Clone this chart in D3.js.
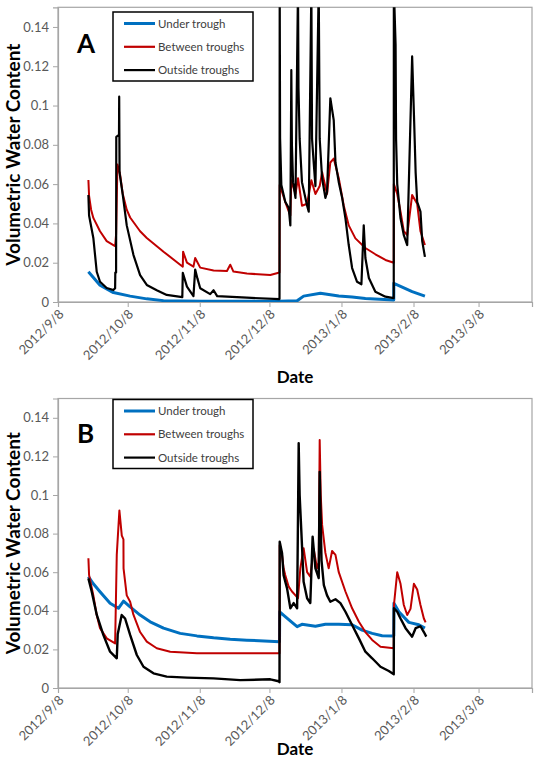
<!DOCTYPE html>
<html>
<head>
<meta charset="utf-8">
<script src="https://cdn.jsdelivr.net/npm/d3@7"></script>
<style>
  body { margin: 0; background: #fff; }
  svg { font-family: Lato, "Open Sans", sans-serif; }
</style>
</head>
<body>
<div id="chart"></div>
<script>
// series names (legend order)
const seriesNames = ["Under trough", "Between troughs", "Outside troughs"];
const seriesColors = ["#0070C0", "#C00000", "#000000"];

const xTickLabels = ["2012/9/8", "2012/10/8", "2012/11/8", "2012/12/8", "2013/1/8", "2013/2/8", "2013/3/8"];
const yTicks = [0, 0.02, 0.04, 0.06, 0.08, 0.1, 0.12, 0.14];

// ---- Panel A ----
const aUnder = [
  ["2012-09-21 02", 0.0154], ["2012-09-23 05", 0.0125], ["2012-09-26 02", 0.0085],
  ["2012-10-01 20", 0.0048], ["2012-10-09 01", 0.003], ["2012-10-16 05", 0.0016],
  ["2012-10-23 10", 0.0007], ["2012-11-08 05", 0.0004], ["2012-12-12 08", 0.0004],
  ["2012-12-19 22", 0.0006], ["2012-12-22 17", 0.003], ["2012-12-29 22", 0.0045],
  ["2013-01-06 20", 0.003], ["2013-01-12 14", 0.0025], ["2013-01-18 07", 0.0018],
  ["2013-01-30 12", 0.001], ["2013-01-30 13", 0.0095], ["2013-02-02 10", 0.008],
  ["2013-02-07 10", 0.0053], ["2013-02-12 22", 0.003]
];
const aBetween = [
  ["2012-09-21 02", 0.0621], ["2012-09-21 09", 0.054], ["2012-09-22 06", 0.047],
  ["2012-09-23 05", 0.0428], ["2012-09-26 02", 0.036], ["2012-09-28 23", 0.031],
  ["2012-10-01 20", 0.029], ["2012-10-02 14", 0.0285], ["2012-10-03 00", 0.0345],
  ["2012-10-03 14", 0.07], ["2012-10-04 17", 0.065], ["2012-10-05 21", 0.055],
  ["2012-10-07 14", 0.047], ["2012-10-09 01", 0.043], ["2012-10-13 08", 0.036],
  ["2012-10-16 05", 0.0326], ["2012-10-23 10", 0.0256], ["2012-10-30 14", 0.019],
  ["2012-10-31 17", 0.018], ["2012-10-31 20", 0.0256], ["2012-11-02 12", 0.02],
  ["2012-11-05 07", 0.018], ["2012-11-06 01", 0.0224], ["2012-11-08 05", 0.0175],
  ["2012-11-13 23", 0.016], ["2012-11-19 17", 0.0158], ["2012-11-21 03", 0.019],
  ["2012-11-22 12", 0.0155], ["2012-11-28 07", 0.0145], ["2012-12-08 09", 0.0137],
  ["2012-12-12 08", 0.015], ["2012-12-12 10", 0.0596], ["2012-12-14 19", 0.051],
  ["2012-12-17 00", 0.044], ["2012-12-17 10", 0.062], ["2012-12-19 05", 0.055],
  ["2012-12-20 07", 0.063], ["2012-12-22 00", 0.049], ["2012-12-24 05", 0.05],
  ["2012-12-26 01", 0.062], ["2012-12-27 19", 0.055], ["2012-12-29 15", 0.059],
  ["2012-12-30 16", 0.066], ["2013-01-01 19", 0.055], ["2013-01-03 05", 0.071],
  ["2013-01-04 16", 0.073], ["2013-01-06 20", 0.063], ["2013-01-09 00", 0.049],
  ["2013-01-11 03", 0.039], ["2013-01-14 00", 0.0324], ["2013-01-18 07", 0.0275],
  ["2013-01-22 14", 0.0243], ["2013-01-26 22", 0.0214], ["2013-01-30 12", 0.02],
  ["2013-01-30 13", 0.06], ["2013-02-01 00", 0.055], ["2013-02-02 10", 0.046],
  ["2013-02-03 20", 0.036], ["2013-02-05 07", 0.034], ["2013-02-07 10", 0.0545],
  ["2013-02-09 14", 0.05], ["2013-02-11 00", 0.036], ["2013-02-12 22", 0.029]
];
const aOutside = [
  ["2012-09-21 02", 0.0545], ["2012-09-21 09", 0.044], ["2012-09-23 05", 0.0326],
  ["2012-09-24 16", 0.0154], ["2012-09-26 02", 0.0103], ["2012-09-28 23", 0.0071],
  ["2012-10-01 20", 0.0061], ["2012-10-02 14", 0.007], ["2012-10-02 16", 0.015],
  ["2012-10-03 00", 0.015], ["2012-10-03 02", 0.084], ["2012-10-04 06", 0.085],
  ["2012-10-04 08", 0.1045], ["2012-10-04 12", 0.0657], ["2012-10-05 21", 0.0545],
  ["2012-10-07 14", 0.039], ["2012-10-10 11", 0.024], ["2012-10-13 08", 0.0137],
  ["2012-10-16 05", 0.0087], ["2012-10-20 12", 0.006], ["2012-10-24 19", 0.0036],
  ["2012-10-31 12", 0.0025], ["2012-10-31 17", 0.0148], ["2012-11-02 12", 0.0078],
  ["2012-11-05 07", 0.003], ["2012-11-06 01", 0.0165], ["2012-11-07 00", 0.012],
  ["2012-11-08 05", 0.007], ["2012-11-12 12", 0.004], ["2012-11-13 23", 0.006],
  ["2012-11-15 12", 0.003], ["2012-11-28 07", 0.0022], ["2012-12-12 08", 0.0015],
  ["2012-12-12 10", 0.16], ["2012-12-12 14", 0.0833], ["2012-12-13 03", 0.0596],
  ["2012-12-14 19", 0.051], ["2012-12-16 07", 0.048], ["2012-12-17 00", 0.039],
  ["2012-12-17 10", 0.118], ["2012-12-17 16", 0.08], ["2012-12-18 04", 0.061],
  ["2012-12-19 05", 0.053], ["2012-12-20 07", 0.16], ["2012-12-20 12", 0.109],
  ["2012-12-21 00", 0.083], ["2012-12-22 00", 0.061], ["2012-12-24 05", 0.049],
  ["2012-12-24 22", 0.046], ["2012-12-26 01", 0.16], ["2012-12-26 08", 0.083],
  ["2012-12-27 01", 0.071], ["2012-12-27 19", 0.059], ["2012-12-29 05", 0.16],
  ["2012-12-29 15", 0.083], ["2012-12-30 16", 0.063], ["2013-01-01 02", 0.053],
  ["2013-01-01 19", 0.056], ["2013-01-03 05", 0.1037], ["2013-01-04 16", 0.0926],
  ["2013-01-05 10", 0.071], ["2013-01-06 20", 0.061], ["2013-01-08 07", 0.053],
  ["2013-01-09 17", 0.0426], ["2013-01-11 03", 0.029], ["2013-01-12 14", 0.0173],
  ["2013-01-14 17", 0.0103], ["2013-01-16 14", 0.009], ["2013-01-17 14", 0.039],
  ["2013-01-18 07", 0.0224], ["2013-01-19 19", 0.0122], ["2013-01-22 14", 0.0052],
  ["2013-01-26 22", 0.0027], ["2013-01-30 12", 0.002], ["2013-01-30 13", 0.16],
  ["2013-01-31 07", 0.131], ["2013-01-31 12", 0.083], ["2013-02-01 00", 0.06],
  ["2013-02-02 10", 0.0426], ["2013-02-03 20", 0.034], ["2013-02-05 07", 0.029],
  ["2013-02-07 10", 0.125], ["2013-02-08 06", 0.093], ["2013-02-08 22", 0.066],
  ["2013-02-09 14", 0.051], ["2013-02-11 00", 0.046], ["2013-02-11 18", 0.031],
  ["2013-02-12 22", 0.023]
];

// ---- Panel B ----
const bUnder = [
  ["2012-09-21 02", 0.0577], ["2012-09-23 05", 0.054], ["2012-09-26 02", 0.0499],
  ["2012-09-30 10", 0.0439], ["2012-10-04 00", 0.0413], ["2012-10-06 05", 0.045],
  ["2012-10-09 01", 0.042], ["2012-10-13 08", 0.0378], ["2012-10-17 16", 0.0343],
  ["2012-10-23 10", 0.031], ["2012-10-30 14", 0.0283], ["2012-11-06 19", 0.027],
  ["2012-11-13 23", 0.026], ["2012-11-21 03", 0.0253], ["2012-11-28 07", 0.0248],
  ["2012-12-12 08", 0.024], ["2012-12-12 10", 0.0395], ["2012-12-14 19", 0.037],
  ["2012-12-17 17", 0.034], ["2012-12-19 22", 0.0318], ["2012-12-22 00", 0.033],
  ["2012-12-27 19", 0.032], ["2013-01-01 02", 0.033], ["2013-01-06 20", 0.033],
  ["2013-01-12 14", 0.0328], ["2013-01-16 21", 0.03], ["2013-01-21 05", 0.0283],
  ["2013-01-25 12", 0.0271], ["2013-01-30 12", 0.027], ["2013-01-30 14", 0.0439],
  ["2013-02-01 17", 0.0395], ["2013-02-06 00", 0.034], ["2013-02-10 07", 0.0328],
  ["2013-02-12 22", 0.031]
];
const bBetween = [
  ["2012-09-21 02", 0.0672], ["2012-09-21 09", 0.0585], ["2012-09-23 05", 0.048],
  ["2012-09-24 16", 0.0378], ["2012-09-26 02", 0.031], ["2012-09-28 23", 0.0257],
  ["2012-10-02 14", 0.0231], ["2012-10-03 07", 0.069], ["2012-10-04 10", 0.092],
  ["2012-10-05 11", 0.079], ["2012-10-06 04", 0.077], ["2012-10-06 05", 0.062],
  ["2012-10-07 14", 0.048], ["2012-10-09 01", 0.0447], ["2012-10-10 11", 0.038],
  ["2012-10-13 08", 0.029], ["2012-10-16 05", 0.024], ["2012-10-20 12", 0.0206],
  ["2012-10-26 07", 0.0188], ["2012-11-06 19", 0.018], ["2012-12-12 08", 0.018],
  ["2012-12-12 10", 0.074], ["2012-12-13 10", 0.069], ["2012-12-14 02", 0.062],
  ["2012-12-14 19", 0.0585], ["2012-12-16 07", 0.0525], ["2012-12-17 17", 0.05],
  ["2012-12-19 05", 0.048], ["2012-12-20 07", 0.0465], ["2012-12-21 07", 0.062],
  ["2012-12-22 17", 0.0724], ["2012-12-24 05", 0.06], ["2012-12-25 14", 0.0577],
  ["2012-12-27 01", 0.072], ["2012-12-28 12", 0.062], ["2012-12-29 05", 0.065],
  ["2012-12-29 15", 0.1285], ["2012-12-30 02", 0.1], ["2012-12-30 16", 0.0845],
  ["2013-01-01 02", 0.07], ["2013-01-02 12", 0.062], ["2013-01-03 23", 0.071],
  ["2013-01-05 10", 0.069], ["2013-01-06 20", 0.06], ["2013-01-09 17", 0.05],
  ["2013-01-12 14", 0.0413], ["2013-01-15 12", 0.0343], ["2013-01-18 07", 0.029],
  ["2013-01-21 05", 0.0249], ["2013-01-24 19", 0.0214], ["2013-01-30 12", 0.0206],
  ["2013-01-30 14", 0.043], ["2013-02-01 00", 0.06], ["2013-02-02 10", 0.054],
  ["2013-02-03 20", 0.043], ["2013-02-05 07", 0.0378], ["2013-02-06 17", 0.041],
  ["2013-02-08 04", 0.054], ["2013-02-09 14", 0.051], ["2013-02-11 00", 0.043],
  ["2013-02-12 11", 0.036], ["2013-02-13 05", 0.034]
];
const bOutside = [
  ["2012-09-21 02", 0.0568], ["2012-09-22 12", 0.05], ["2012-09-24 16", 0.038],
  ["2012-09-27 12", 0.0275], ["2012-09-30 10", 0.0188], ["2012-10-03 07", 0.0154],
  ["2012-10-03 17", 0.028], ["2012-10-05 10", 0.0378], ["2012-10-06 21", 0.036],
  ["2012-10-09 01", 0.0275], ["2012-10-11 22", 0.0171], ["2012-10-14 19", 0.011],
  ["2012-10-19 02", 0.0076], ["2012-10-24 19", 0.0059], ["2012-11-02 12", 0.0054],
  ["2012-11-13 23", 0.005], ["2012-11-25 10", 0.0041], ["2012-12-08 09", 0.0045],
  ["2012-12-11 23", 0.0035], ["2012-12-12 08", 0.003], ["2012-12-12 10", 0.0758],
  ["2012-12-13 10", 0.07], ["2012-12-14 02", 0.0585], ["2012-12-15 14", 0.0516],
  ["2012-12-17 00", 0.0413], ["2012-12-18 10", 0.044], ["2012-12-19 22", 0.0413],
  ["2012-12-20 14", 0.1268], ["2012-12-21 00", 0.1], ["2012-12-22 00", 0.074],
  ["2012-12-22 17", 0.055], ["2012-12-24 05", 0.0465], ["2012-12-25 14", 0.044],
  ["2012-12-26 14", 0.0784], ["2012-12-27 19", 0.062], ["2012-12-29 05", 0.057],
  ["2012-12-29 15", 0.112], ["2012-12-30 10", 0.066], ["2012-12-31 10", 0.0533],
  ["2013-01-01 19", 0.048], ["2013-01-03 05", 0.0447], ["2013-01-05 10", 0.046],
  ["2013-01-07 13", 0.044], ["2013-01-09 17", 0.0395], ["2013-01-12 14", 0.0326],
  ["2013-01-15 12", 0.0257], ["2013-01-18 07", 0.0188], ["2013-01-21 05", 0.0154],
  ["2013-01-24 19", 0.011], ["2013-01-28 09", 0.0088], ["2013-01-30 12", 0.0071],
  ["2013-01-30 14", 0.0413], ["2013-02-01 00", 0.0395], ["2013-02-02 10", 0.036],
  ["2013-02-04 14", 0.031], ["2013-02-07 10", 0.0266], ["2013-02-08 22", 0.031],
  ["2013-02-11 00", 0.032], ["2013-02-12 11", 0.029], ["2013-02-13 12", 0.0266]
];

const width = 538;
const height = 761;
const parseTime = d3.timeParse("%Y-%m-%d %H");
const parseTick = d3.timeParse("%Y/%m/%d");

const svg = d3.select("#chart")
  .append("svg")
  .attr("width", width)
  .attr("height", height);

const x = d3.scaleTime()
  .domain([parseTick("2012/9/8"), parseTick("2013/3/31")])
  .range([58, 532]);

function drawPanel(panel) {
  const y = d3.scaleLinear()
    .domain([0, 0.15])
    .range([panel.bottom, panel.top]);

  const g = svg.append("g");

  // clip so the spikes stop at the top of the plot area
  g.append("clipPath")
    .attr("id", "clip" + panel.letter)
    .append("rect")
    .attr("x", x.range()[0])
    .attr("y", panel.top)
    .attr("width", x.range()[1] - x.range()[0])
    .attr("height", panel.bottom - panel.top);

  // plot border
  g.append("rect")
    .attr("x", x.range()[0])
    .attr("y", panel.top)
    .attr("width", x.range()[1] - x.range()[0])
    .attr("height", panel.bottom - panel.top)
    .attr("fill", "none")
    .attr("stroke", "#a6a6a6")
    .attr("stroke-width", 1.2);

  // y axis
  const yAxis = g.append("g")
    .attr("transform", `translate(${x.range()[0]},0)`)
    .call(d3.axisLeft(y).tickValues(yTicks).tickFormat(d3.format("~g")).tickSize(5).tickPadding(4));
  yAxis.select(".domain").attr("stroke", "#a6a6a6").attr("stroke-width", 1.2);
  yAxis.selectAll(".tick line").attr("stroke", "#a6a6a6");
  yAxis.selectAll("text")
    .attr("fill", "#595959")
    .style("font-size", "13px")
    .style("font-family", "Lato, sans-serif");

  // x axis
  const tickDates = xTickLabels.map(parseTick);
  const xAxis = g.append("g")
    .attr("transform", `translate(0,${panel.bottom})`)
    .call(d3.axisBottom(x).tickValues(tickDates).tickFormat((d, i) => xTickLabels[i]).tickSize(5));
  xAxis.select(".domain").attr("stroke", "#a6a6a6").attr("stroke-width", 1.2);
  xAxis.selectAll(".tick line").attr("stroke", "#a6a6a6");
  xAxis.selectAll("text")
    .attr("fill", "#595959")
    .style("font-size", "13px")
    .style("font-family", "Lato, sans-serif")
    .attr("text-anchor", "end")
    .attr("y", 0)
    .attr("dy", 0)
    .attr("transform", "translate(6,13) rotate(-45)");

  // lines
  const line = d3.line()
    .x(d => x(parseTime(d[0])))
    .y(d => y(d[1]));

  const lines = g.append("g").attr("clip-path", `url(#clip${panel.letter})`);
  panel.series.forEach((s, i) => {
    lines.append("path")
      .datum(s)
      .attr("fill", "none")
      .attr("stroke", seriesColors[i])
      .attr("stroke-width", panel.widths[i])
      .attr("stroke-linejoin", "round")
      .attr("d", line);
  });

  // panel letter
  g.append("text")
    .attr("x", 77)
    .attr("y", panel.top + panel.letterDy)
    .style("font-size", "26px")
    .style("font-weight", "bold")
    .text(panel.letter);

  // legend
  const lg = g.append("g").attr("transform", `translate(113,${panel.legendTop})`);
  lg.append("rect")
    .attr("width", 140)
    .attr("height", 69)
    .attr("fill", "#fff")
    .attr("stroke", "#000")
    .attr("stroke-width", 1.5);
  seriesNames.forEach((name, i) => {
    const ry = 11.5 + i * 23.3;
    lg.append("line")
      .attr("x1", 11).attr("x2", 42)
      .attr("y1", ry).attr("y2", ry)
      .attr("stroke", seriesColors[i])
      .attr("stroke-width", i === 0 ? 3 : 2.2);
    lg.append("text")
      .attr("x", 45)
      .attr("y", ry)
      .attr("dy", "0.35em")
      .attr("fill", "#404040")
      .style("font-size", "11.5px")
      .text(name);
  });

  // axis titles
  g.append("text")
    .attr("transform", `translate(20,${(panel.top + panel.bottom) / 2}) rotate(-90)`)
    .attr("text-anchor", "middle")
    .style("font-size", "19px")
    .style("font-weight", "bold")
    .text("Volumetric Water Content");

  g.append("text")
    .attr("x", (x.range()[0] + x.range()[1]) / 2)
    .attr("y", Math.min(panel.bottom + 81, height - 6))
    .attr("text-anchor", "middle")
    .style("font-size", "17px")
    .style("font-weight", "bold")
    .text("Date");
}

drawPanel({
  letter: "A", top: 7.3, bottom: 302, legendTop: 12, letterDy: 46,
  series: [aUnder, aBetween, aOutside], widths: [3, 2, 2.2]
});
drawPanel({
  letter: "B", top: 398.5, bottom: 688, legendTop: 399.5, letterDy: 44,
  series: [bUnder, bBetween, bOutside], widths: [3, 2, 2.4]
});
</script>
</body>
</html>
